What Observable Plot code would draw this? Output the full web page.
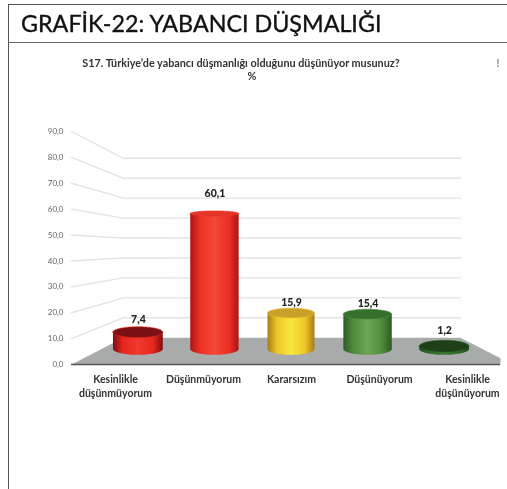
<!DOCTYPE html>
<html lang="tr">
<head>
<meta charset="utf-8">
<script src="https://cdn.jsdelivr.net/npm/d3@7"></script>
<script src="https://cdn.jsdelivr.net/npm/@observablehq/plot@0.6"></script>
<style>
html,body{margin:0;padding:0;background:#fff;width:507px;height:489px;overflow:hidden;font-family:Lato,sans-serif}
#page{position:absolute;left:0;top:0;width:507px;height:489px;filter:blur(0.35px)}
#frame{position:absolute;left:8px;top:4px;width:499px;height:485px;border-left:1px solid #555;border-top:1px solid #555;box-sizing:border-box}
#head{position:absolute;left:8px;top:4px;width:499px;height:39px;box-sizing:border-box;border-bottom:1.5px solid #666}
h1{position:absolute;left:13px;top:3px;margin:0;font:400 23.3px/32px Lato,sans-serif;color:#111;white-space:nowrap;-webkit-text-stroke:0.35px #111}
.sub{position:absolute;font:700 10.8px/12px Lato,sans-serif;color:#333;white-space:nowrap;transform:translateX(-50%)}
#chart{position:absolute;left:0;top:110px}
</style>
</head>
<body>
<div id="page">
<div id="frame"></div>
<div id="head"><h1>GRAFİK-22: YABANCI DÜŞMALIĞI</h1></div>
<div class="sub" style="left:241px;top:57px">S17. Türkiye’de yabancı düşmanlığı olduğunu düşünüyor musunuz?</div>
<div class="sub" style="left:252px;top:70px">%</div>
<div class="sub" style="left:498px;top:57px;color:#888">!</div>
<div id="chart"></div>
</div>
<script>
const categories = ["Kesinlikle\ndüşünmüyorum", "Düşünmüyorum", "Kararsızım", "Düşünüyorum", "Kesinlikle\ndüşünüyorum"];
const values = [7.4, 60.1, 15.9, 15.4, 1.2];
const valueLabels = ["7,4", "60,1", "15,9", "15,4", "1,2"];
const yTicks = [0, 10, 20, 30, 40, 50, 60, 70, 80, 90];

// colours: [edge, mid, highlight, top face]
const palette = [
  ["#7e0e10", "#e8261e", "#ee3a2c", "#7c1012"],
  ["#a81614", "#ee2f24", "#f2483a", "#e4352a"],
  ["#a87c14", "#eec528", "#f8e83c", "#c9a02a"],
  ["#2c5a24", "#4f8a3c", "#6ea456", "#34702e"],
  ["#1c4a18", "#2c6a28", "#3a7a34", "#1e3f18"]
];

// depth projection in data units: s = 1 front edge, smaller = further back
const pxPerUnit = 233 / 90, pxPerCat = 88, centre = 2, lift = 45;
const project = (i, v, s) => [centre + (i - centre) * s, v * s + (1 - s) * lift];
const backS = 0.77, cylS = 0.87;
const backLeft = project(-0.5, 0, 0.764)[0], backRight = 3.92, frontLeft = -0.5, frontRight = 4.375;

const grid = yTicks.filter(t => t > 0).map(t => {
  const back = project(0, t, backS)[1];
  return [{g: t, x: frontLeft, y: t}, {g: t, x: backLeft, y: back}, {g: t, x: backRight, y: back}];
}).flat();

const backY = project(0, 0, backS)[1];
const floor = [
  {x: frontLeft, y: 0}, {x: backLeft, y: backY}, {x: backRight, y: backY},
  {x: frontRight, y: 2.4}, {x: frontRight, y: 0}, {x: frontLeft, y: 0}
];

const arc = d3.range(0, 37).map(k => Math.PI * k / 36);
function cylinderMarks(v, i) {
  const [cx, base] = project(i, 0, cylS);
  const top = project(i, v, cylS)[1];
  const rx = (23.5 + 0.7 * Math.abs(i - centre)) / pxPerCat;
  const ryBase = 6 / pxPerUnit;
  const ryTop = Math.max(2.6, 6 - v * 0.07 ) / pxPerUnit;
  const body = arc.map(t => ({
    x: cx - rx * Math.cos(t),
    y1: base - ryBase * Math.sin(t),
    y2: top
  }));
  const cap = arc.map(t => ({
    x: cx - rx * Math.cos(t),
    y1: top - ryTop * Math.sin(t),
    y2: top + ryTop * Math.sin(t)
  }));
  return [
    Plot.areaY(body, {x: "x", y1: "y1", y2: "y2", fill: `url(#cyl${i})`}),
    Plot.areaY(cap, {x: "x", y1: "y1", y2: "y2", fill: palette[i][3], stroke: palette[i][1], strokeWidth: 0.6})
  ];
}

function gradients() {
  const defs = d3.create("svg:defs");
  palette.forEach((c, i) => {
    const g = defs.append("linearGradient").attr("id", `cyl${i}`);
    [[0, c[0]], [0.2, c[1]], [0.5, c[2]], [0.8, c[1]], [1, c[0]]].forEach(([o, col]) =>
      g.append("stop").attr("offset", o).attr("stop-color", col));
  });
  return defs.node();
}

const rows = values.map((v, i) => {
  const labelGapPx = [13, 20, 11, 11, 16][i];
  return {
    cat: categories[i], i, label: valueLabels[i],
    x: project(i, v, cylS)[0],
    y: project(i, v, cylS)[1] + labelGapPx / pxPerUnit
  };
});

const plot = Plot.plot({
  width: 507, height: 300,
  marginTop: 21, marginBottom: 46, marginLeft: 71, marginRight: 0,
  style: {fontFamily: "Lato, sans-serif", background: "transparent"},
  x: {type: "linear", domain: [-0.5, 4.5], range: [71, 511], axis: null},
  y: {type: "linear", domain: [0, 90], axis: null},
  marks: [
    gradients,
    Plot.line(grid, {x: "x", y: "y", z: "g", stroke: "#e3e3e3", strokeWidth: 1.4}),
    Plot.line(floor, {x: "x", y: "y", fill: "#a9abab", stroke: "none"}),
    Plot.ruleY([0], {x1: frontLeft, x2: frontRight, stroke: "#555", strokeWidth: 1.6}),
    Plot.axisY({ticks: yTicks, tickSize: 0, tickPadding: 8, fontSize: 8, fill: "#666", label: null,
      tickFormat: d => d.toFixed(1).replace(".", ",")}),
    ...values.flatMap(cylinderMarks),
    Plot.text(rows, {x: "x", y: "y", text: "label", fontSize: 10.5, fontWeight: 900, fill: "#222"}),
    Plot.text(rows, {x: "i", y: () => 0, text: "cat", dy: 9, lineAnchor: "top", lineHeight: 1.32,
      fontSize: 10.5, fontWeight: 700, fill: "#333"})
  ]
});
document.getElementById("chart").appendChild(plot);
</script>
</body>
</html>
